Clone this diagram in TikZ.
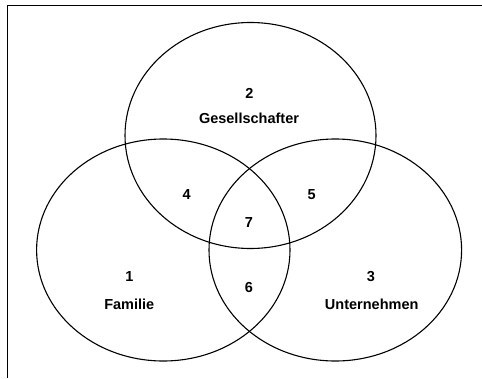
\documentclass[tikz,border=0pt]{standalone}
\usepackage{fontspec}
\setmainfont{Liberation Sans}
\usepackage{tikz}
\tikzstyle{set}=[draw, line width=1.1pt]
\tikzstyle{setname}=[font=\fontsize{14.5}{17}\selectfont\bfseries, inner sep=0pt]

\begin{document}
\begin{tikzpicture}[x=1pt, y=-1pt]
                    \useasboundingbox (0,0) rectangle (482,378);
                    \draw[line width=1pt] (7.3,378) -- (7.3,5) -- (482,5);
                    \draw[set] (250.5,135.5) ellipse (125.5 and 113);
                    \draw[set] (163.3,250)   ellipse (126.7 and 111);
                    \draw[set] (335.3,250)   ellipse (126.3 and 111);
                    \node[setname] (n2) at (249.3, 93.3) {2};
                    \node[setname] (g)  at (249,  118.5) {Gesellschafter};
                    \node[setname] (n4) at (186.7,194.3) {4};
                    \node[setname] (n5) at (311.7,194.3) {5};
                    \node[setname] (n7) at (249,  222.3) {7};
                    \node[setname] (n6) at (249,  287.7) {6};
                    \node[setname] (n1) at (129.3,276.7) {1};
                    \node[setname] (f)  at (129.3,304)   {Familie};
                    \node[setname] (n3) at (371,  276.7) {3};
                    \node[setname] (u)  at (371.7,304)   {Unternehmen};
                \end{tikzpicture}
\end{document}
